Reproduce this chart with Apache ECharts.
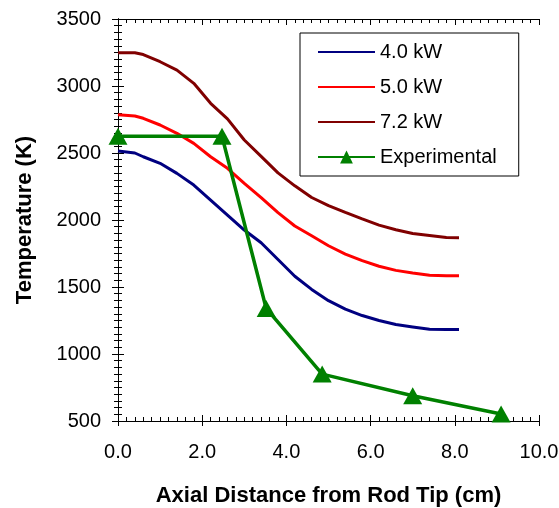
<!DOCTYPE html>
<html>
<head>
<meta charset="utf-8">
<script src="https://cdn.jsdelivr.net/npm/echarts@6/dist/echarts.min.js"></script>
<style>
  html, body { margin: 0; padding: 0; background: #fff; }
  #chart { width: 559px; height: 508px; }
</style>
</head>
<body>
<div id="chart"></div>
<script>
// model curves share one set of axial positions (cm)
var modelDistance = [0, 0.4, 0.6, 1.0, 1.4, 1.8, 2.2, 2.6, 3.0, 3.4, 3.8, 4.2, 4.6, 5.0, 5.4, 5.8, 6.2, 6.6, 7.0, 7.4, 7.8, 8.1];
var temp40 = [2515, 2500, 2472, 2423, 2348, 2261, 2149, 2037, 1925, 1830, 1705, 1580, 1482, 1398, 1335, 1287, 1250, 1220, 1202, 1184, 1182, 1182];
var temp50 = [2786, 2776, 2759, 2709, 2647, 2572, 2472, 2386, 2274, 2167, 2055, 1955, 1882, 1808, 1746, 1697, 1655, 1624, 1605, 1588, 1584, 1584];
var temp72 = [3248, 3248, 3235, 3181, 3119, 3020, 2871, 2755, 2597, 2475, 2352, 2255, 2168, 2107, 2057, 2008, 1962, 1927, 1899, 1885, 1870, 1868];
// experimental points
var expDistance = [0, 2.47, 3.52, 4.85, 7.0, 9.1];
var expTemp = [2625, 2625, 1340, 850, 688, 552];

var seriesNames = ['4.0 kW', '5.0 kW', '7.2 kW', 'Experimental'];
var xTicks = { min: 0, max: 10, interval: 2 };
var yTicks = { min: 500, max: 3500, interval: 500 };

function pairs(xs, ys) {
  return xs.map(function (x, i) { return [x, ys[i]]; });
}

var font = 'Arial, "Liberation Sans", sans-serif';
var black = { color: '#000', width: 1 };

// overlay axes: labelled one with inner ticks, one with outer ticks, opposite side inner ticks
function xAxes() {
  var base = { type: 'value', min: xTicks.min, max: xTicks.max, interval: xTicks.interval, splitLine: { show: false } };
  return [
    Object.assign({}, base, {
      position: 'bottom',
      name: 'Axial Distance from Rod Tip (cm)',
      nameLocation: 'middle',
      nameGap: 64,
      nameTextStyle: { fontFamily: font, fontWeight: 'bold', fontSize: 22, color: '#000' },
      axisLine: { lineStyle: black },
      axisTick: { inside: true, length: 6, lineStyle: black },
      minorTick: { show: true, splitNumber: 10, length: 4, lineStyle: black },
      axisLabel: { fontFamily: font, fontSize: 20, color: '#000', margin: 21,
        formatter: function (v) { return v.toFixed(1); } }
    }),
    Object.assign({}, base, {
      position: 'bottom',
      axisLine: { lineStyle: black },
      axisTick: { inside: false, length: 5, lineStyle: black },
      axisLabel: { show: false }
    }),
    Object.assign({}, base, {
      position: 'top',
      axisLine: { lineStyle: black },
      axisTick: { inside: true, length: 6, lineStyle: black },
      minorTick: { show: true, splitNumber: 10, length: 4, lineStyle: black },
      axisLabel: { show: false }
    })
  ];
}

function yAxes() {
  var base = { type: 'value', min: yTicks.min, max: yTicks.max, interval: yTicks.interval, splitLine: { show: false } };
  return [
    Object.assign({}, base, {
      position: 'left',
      name: 'Temperature (K)',
      nameLocation: 'middle',
      nameGap: 82,
      nameTextStyle: { fontFamily: font, fontWeight: 'bold', fontSize: 22, color: '#000' },
      axisLine: { lineStyle: black },
      axisTick: { inside: true, length: 6, lineStyle: black },
      minorTick: { show: true, splitNumber: 10, length: 4, lineStyle: black },
      axisLabel: { fontFamily: font, fontSize: 20, color: '#000', margin: 17,
        formatter: function (v) { return String(v); } }
    }),
    Object.assign({}, base, {
      position: 'left',
      axisLine: { lineStyle: black },
      axisTick: { inside: false, length: 5, lineStyle: black },
      axisLabel: { show: false }
    }),
    Object.assign({}, base, {
      position: 'right',
      axisLine: { lineStyle: black },
      axisTick: { inside: true, length: 6, lineStyle: black },
      minorTick: { show: true, splitNumber: 10, length: 4, lineStyle: black },
      axisLabel: { show: false }
    })
  ];
}

function modelLine(name, ys, color) {
  return {
    name: name, type: 'line', xAxisIndex: 0, yAxisIndex: 0,
    data: pairs(modelDistance, ys),
    showSymbol: false, symbol: 'none',
    lineStyle: { color: color, width: 3 },
    itemStyle: { color: color },
    z: 2
  };
}

var chart = echarts.init(document.getElementById('chart'), null, { renderer: 'canvas' });
chart.setOption({
  animation: false,
  backgroundColor: '#fff',
  grid: { left: 118, right: 20, top: 19, bottom: 87, containLabel: false, outerBoundsMode: 'none' },
  legend: {
    data: [
      { name: seriesNames[0], itemStyle: { opacity: 0 } },
      { name: seriesNames[1], itemStyle: { opacity: 0 } },
      { name: seriesNames[2], itemStyle: { opacity: 0 } },
      { name: seriesNames[3] }
    ],
    orient: 'vertical',
    left: 300, top: 33,
    padding: [9, 22, 9, 17],
    itemWidth: 57, itemHeight: 16, itemGap: 15,
    borderColor: '#000', borderWidth: 1,
    backgroundColor: '#fff',
    textStyle: { fontFamily: font, fontSize: 20, color: '#000' }
  },
  xAxis: xAxes(),
  yAxis: yAxes(),
  series: [
    modelLine(seriesNames[0], temp40, '#000080'),
    modelLine(seriesNames[1], temp50, '#ff0000'),
    modelLine(seriesNames[2], temp72, '#800000'),
    {
      name: seriesNames[3], type: 'line', xAxisIndex: 0, yAxisIndex: 0,
      data: pairs(expDistance, expTemp),
      symbol: 'triangle', symbolSize: [19, 17],
      lineStyle: { color: '#008000', width: 3.5 },
      itemStyle: { color: '#008000' },
      z: 3
    }
  ]
});
</script>
</body>
</html>
